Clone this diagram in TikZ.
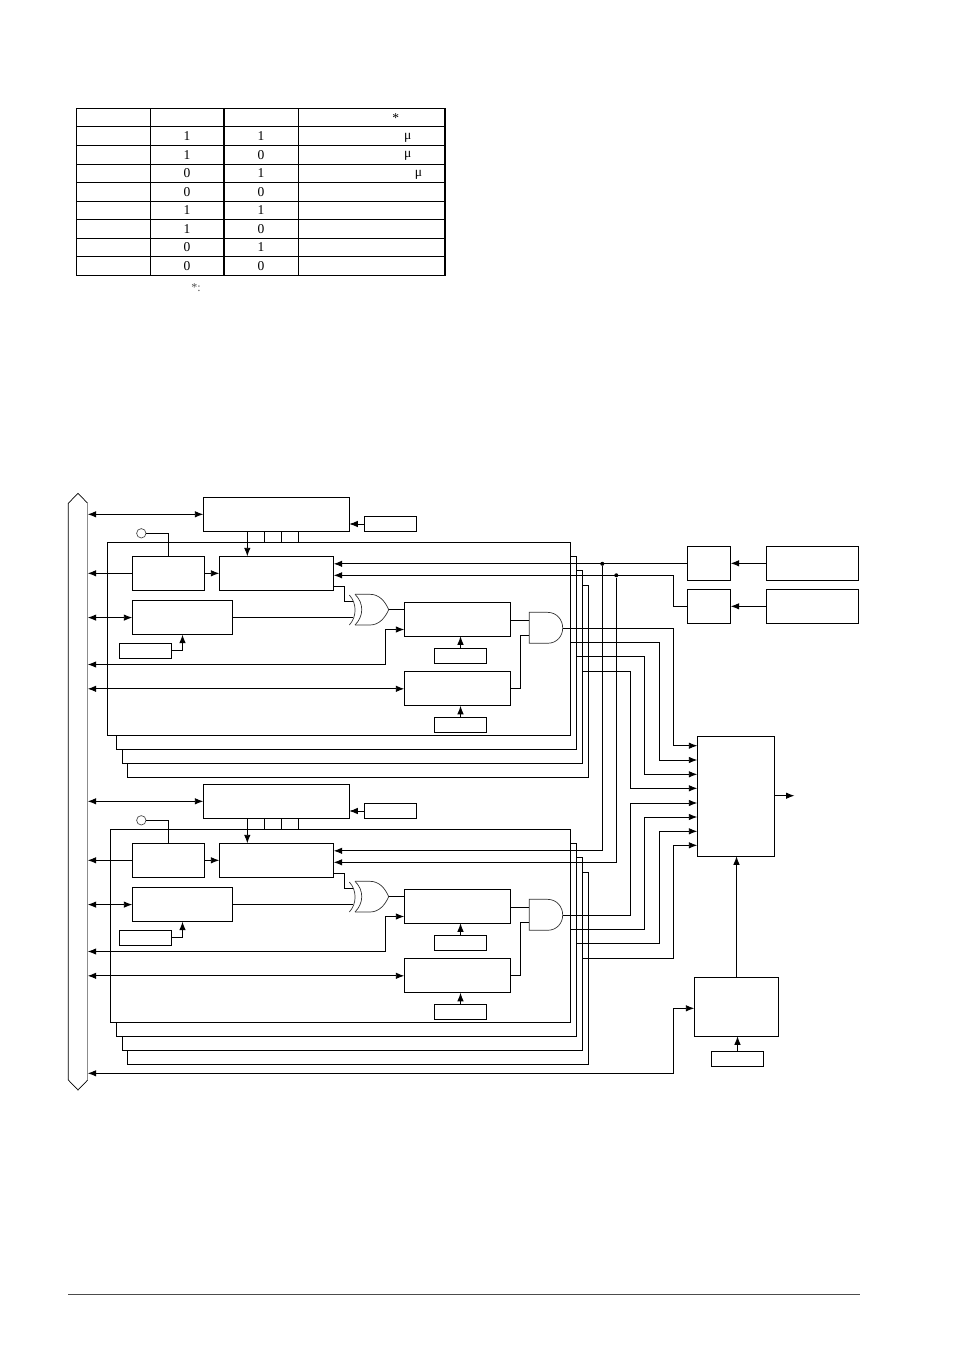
\documentclass[tikz,border=0pt]{standalone}
\usepackage{fontspec}
\setmainfont{Liberation Serif}
\usetikzlibrary{arrows.meta, calc}

\tikzset{
    box/.style 2 args={draw, inner sep=0pt, outer sep=0pt, minimum width=#1pt, minimum height=#2pt},
    reg/.style={box={106.4}{34}},
    tag/.style={box={52.4}{15}},
    gate/.style={line width=0.7pt, black!80},
    cell/.style={inner sep=0pt, font=\fontsize{13.5}{15}\selectfont},
    dot/.style={circle, fill, inner sep=0pt, minimum size=4pt},
    pinhole/.style={circle, draw=black!70, line width=0.7pt, inner sep=0pt, minimum size=9.4pt}
}

\begin{document}
\begin{tikzpicture}[x=1pt, y=-1pt, line width=0.9pt, >={Latex[length=8.5pt,width=6.5pt]}]
\useasboundingbox (0,0) rectangle (954,1346);

% table
\draw (76.7,108.3) -- (445,108.3);
\draw (76.7,108.3) -- (76.7,275.7);
\draw (150.3,108.3) -- (150.3,275.7);
\draw[line width=1.3pt] (224,108.3) -- (224,275.7);
\draw[line width=1.2pt] (298.3,108.3) -- (298.3,275.7);
\draw[line width=1.5pt] (76.7,126.7) -- (445,126.7);
\foreach \y in {145.3,164,182.3,201,219.3,238.3,256.7}
    \draw (76.7,\y) -- (445,\y);
\draw[line width=1.5pt] (76.7,275.7) -- (445,275.7) -- (445,108.3);
\foreach \r/\a/\b/\y in {1/1/1/136,2/1/0/154.6,3/0/1/173,4/0/0/191.6,5/1/1/210,6/1/0/228.6,7/0/1/247,8/0/0/266}{
    \node[cell] (pa\r) at (187,\y) {\a};
    \node[cell] (pb\r) at (261,\y) {\b};
}
\node[cell] (star) at (395.7,118) {*};
\node[cell] (mua) at (407.7,137.5) {μ};
\node[cell] (mub) at (407.7,156) {μ};
\node[cell] (muc) at (418.5,174.5) {μ};
\node[cell, black!70, font=\fontsize{12}{14}\selectfont] (note) at (196,288) {*:};

% bus
\draw[line width=0.7pt] (87.7,503.3) -- (78,493.3) -- (68.3,503.3) -- (68.3,1080) -- (78,1090) -- (87.7,1080);
\draw[black!45, line width=1pt] (87.7,503.3) -- (87.7,1080);
\coordinate (bus) at (87.7,0);

% the two channels
\foreach \u/\dy/\stackleft in {a/0/107.7, b/287/110.3}{
\begin{scope}[shift={(0,\dy)}]
    \draw (\stackleft,542.3) rectangle (570.7,735.3);
    \draw (570.7,556.3) -- (576.7,556.3) -- (576.7,749.3) -- (116.7,749.3) -- (116.7,735.3);
    \draw (576.7,570.3) -- (582.7,570.3) -- (582.7,763.3) -- (122.3,763.3) -- (122.3,749.3);
    \draw (582.7,585.3) -- (588.7,585.3) -- (588.7,777.8) -- (127.3,777.8) -- (127.3,763.3);

    \node[box={146}{34}] (ctl\u) at (276.3,514.3) {};
    \node[tag] (ctk\u) at (390.5,524) {};
    \node[box={72.4}{34}] (inp\u) at (168.5,573.3) {};
    \node[box={114.4}{34}] (mux\u) at (276.5,573.3) {};
    \node[box={100.4}{34}] (buf\u) at (182.5,617.6) {};
    \node[tag] (btk\u) at (145.5,650.8) {};
    \node[reg] (cpa\u) at (457.5,619.3) {};
    \node[tag] (atk\u) at (460.5,655.8) {};
    \node[reg] (cpb\u) at (457.5,688.8) {};
    \node[tag] (ctb\u) at (460.5,724.8) {};
    \node[pinhole] (pin\u) at (141.3,533.3) {};

    % gates
    \draw[gate] (349.3,595) .. controls (357,603) and (357,617) .. (349.3,625);
    \draw[gate] (355,594.3) .. controls (364,603) and (364,616) .. (355,625);
    \draw[gate] (355,594.3) -- (370,594.3) .. controls (379,594.3) and (385,601) .. (388.7,609.7)
        .. controls (385,618) and (379,625) .. (370,625) -- (355,625);
    \draw[gate] (529.3,612.3) -- (547.3,612.3) .. controls (557,612.3) and (562.7,620) .. (562.7,628)
        .. controls (562.7,636) and (557,643.3) .. (547.3,643.3) -- (529.3,643.3) -- cycle;
    \coordinate (xin\u) at (353,601.7);
    \coordinate (xbf\u) at (353,617.6);
    \coordinate (xout\u) at (388.7,609.7);
    \coordinate (gina\u) at (529.3,620.3);
    \coordinate (ginb\u) at (529.3,635.3);
    \coordinate (o1\u) at (562.7,628.3);
    \coordinate (o2\u) at (570.7,642.7);
    \coordinate (o3\u) at (576.7,656.7);
    \coordinate (o4\u) at (582.7,671.3);
    \coordinate (tap\u) at (247.3,531.3);
    \coordinate (mxo\u) at (333.7,586.3);
    \coordinate (cka\u) at (333.7,563.8);
    \coordinate (ckb\u) at (333.7,575.3);
    \coordinate (rd\u) at (385.3,664.5);
    \coordinate (cin\u) at (404.3,629.5);

    % wires
    \draw[<->] (ctl\u.west -| bus) -- (ctl\u.west);
    \draw[->] (ctk\u.west) -- (ctk\u.west -| ctl\u.east);
    \draw[->] (tap\u) -- (tap\u |- mux\u.north);
    \foreach \x in {264.3,281.3,298.3}
        \draw (\x,531.3) -- (\x,542.3);
    \draw (pin\u.east) -| (inp\u.north);
    \draw[->] (inp\u.west) -- (inp\u.west -| bus);
    \draw[->] (inp\u.east) -- (mux\u.west);
    \draw[<->] (buf\u.west -| bus) -- (buf\u.west);
    \draw[->] (btk\u.east) -| (buf\u.south);
    \draw (buf\u.east) -- (xbf\u);
    \draw (mxo\u) -- ++(10.6,0) |- (xin\u);
    \draw (xout\u) -- (xout\u -| cpa\u.west);
    \draw[->] (rd\u) -- (rd\u -| bus);
    \draw[->] (rd\u) |- (cin\u);
    \draw[<->] (cpb\u.west -| bus) -- (cpb\u.west);
    \draw[->] (atk\u.north) -- (atk\u.north |- cpa\u.south);
    \draw[->] (ctb\u.north) -- (ctb\u.north |- cpb\u.south);
    \draw (cpa\u.east |- gina\u) -- (gina\u);
    \draw (cpb\u.east) -- ++(9.6,0) |- (ginb\u);
\end{scope}
}

% clock selection
\node[box={43.4}{34}] (sela) at (709,563.3) {};
\node[box={43.4}{34}] (selb) at (709,606.3) {};
\node[box={92.4}{34}] (srca) at (812.5,563.3) {};
\node[box={92.4}{34}] (srcb) at (812.5,606.3) {};
\draw[->] (srca.west) -- (sela.east);
\draw[->] (srcb.west) -- (selb.east);
\draw[->] (sela.west |- ckaa) -- (ckaa);
\draw[->] (selb.west) -- ++(-14,0) |- (ckba);
\node[dot] (ja) at (602.3,563.8) {};
\node[dot] (jb) at (616.3,575.3) {};
\draw[->] (ja) |- (ckab);
\draw[->] (jb) |- (ckbb);

% output block
\node[box={77}{120}] (out) at (735.8,796.3) {};
\node[box={84.4}{59}] (tmr) at (736.5,1006.8) {};
\node[tag] (ttk) at (737.5,1058.8) {};
\coordinate (v1) at (630.5,0);
\coordinate (v2) at (644.7,0);
\coordinate (v3) at (659.3,0);
\coordinate (v4) at (673.3,0);
\foreach \n/\y in {1/745.7,2/760,3/774.3,4/788.3,5/803,6/817,7/831.3,8/845.3}
    \coordinate (in\n) at (697.3,\y);
\foreach \s/\t/\i in {o1a/v4/in1,o2a/v3/in2,o3a/v2/in3,o4a/v1/in4,o1b/v1/in5,o2b/v2/in6,o3b/v3/in7,o4b/v4/in8}
    \draw[->] (\s) -- (\s -| \t) |- (\i);
\coordinate (outp) at (794.5,795.7);
\draw[->] (out.east |- outp) -- (outp);
\draw[->] (tmr.north) -- (tmr.north |- out.south);
\draw[->] (ttk.north) -- (ttk.north |- tmr.south);
\coordinate (brk) at (673.3,1073.3);
\coordinate (tin) at (694.3,1008.3);
\draw[<->] (brk -| bus) -- (brk) |- (tin);

% page rule
\draw[line width=0.7pt, black!70] (68,1294.5) -- (860,1294.5);
\end{tikzpicture}
\end{document}
